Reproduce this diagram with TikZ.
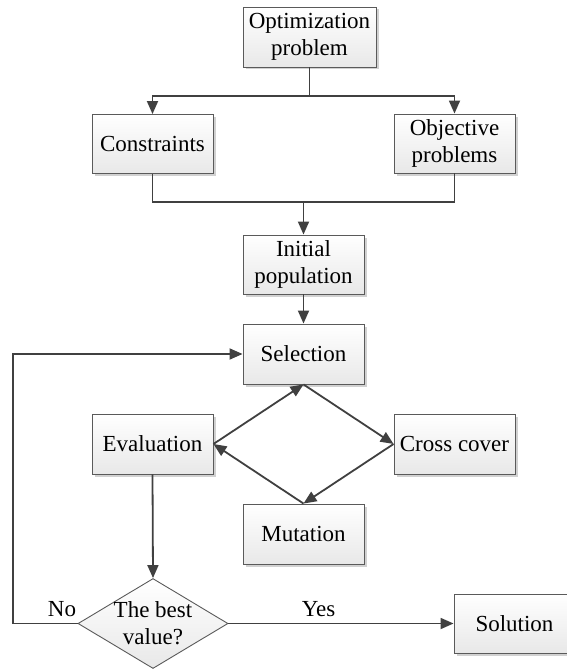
\documentclass[tikz,border=0pt]{standalone}
\usepackage{fontspec}
\setmainfont{Liberation Serif}
\usetikzlibrary{arrows.meta,shapes.geometric,shadows}
\definecolor{linec}{HTML}{404040}
\definecolor{boxline}{HTML}{5A5A5A}
\begin{document}
\begin{tikzpicture}[x=1pt,y=-1pt,
  every node/.style={font=\fontsize{23}{27.5}\selectfont},
  box/.style={rectangle,draw=boxline,line width=0.9pt,top color=white,bottom color=black!9,
    minimum width=121pt,minimum height=59pt,inner sep=0pt,align=center,
    drop shadow={shadow xshift=2.5pt,shadow yshift=-2.5pt,fill=black!30,opacity=0.6}},
  dia/.style={diamond,draw=boxline,line width=0.9pt,top color=white,bottom color=black!9,
    minimum width=150pt,minimum height=90pt,inner sep=0pt},
  conn/.style={draw=linec,line width=1.8pt},
  arr/.style={conn,-{Triangle[length=13pt,width=11pt]}},
  lbl/.style={inner sep=0pt}]
\useasboundingbox (0,0) rectangle (567,669);
\node[box,minimum width=133pt,minimum height=60pt] (opt) at (309.5,37) {Optimization\\problem};
\node[box] (cons) at (152.5,144) {Constraints};
\node[box] (obj) at (454.5,143.5) {Objective\\problems};
\node[box] (init) at (303.5,264.5) {Initial\\population};
\node[box,minimum height=60pt] (sel) at (303.5,354) {Selection};
\node[box,minimum height=60pt] (eval) at (152.5,444) {Evaluation};
\node[box,minimum height=60pt] (cross) at (454.5,444) {Cross cover};
\node[box,minimum height=60pt] (mut) at (303.5,534) {Mutation};
\node[dia] (best) at (153,623.5) {};
\node[lbl,align=center] (besttext) at (153,623) {The best\\value?};
\node[box] (sol) at (514.5,623.5) {Solution};
\coordinate (j1) at (309.5,96);
\coordinate (j2) at (303.5,202);
\coordinate (loop) at (13,623.5);
\draw[conn] (opt.south) -- (j1);
\draw[arr] (j1) -| (cons.north);
\draw[arr] (j1) -| (obj.north);
\draw[conn] (cons.south) |- (j2);
\draw[conn] (obj.south) |- (j2);
\draw[arr] (j2) -- (init.north);
\draw[arr] (init.south) -- (sel.north);
\draw[arr] (sel.south) -- (cross.west);
\draw[arr] (cross.west) -- (mut.north);
\draw[arr] (mut.north) -- (eval.east);
\draw[arr] (eval.east) -- (sel.south);
\draw[arr] (eval.south) -- (best.north);
\draw[arr] (best.east) -- node[lbl,above=6pt,pos=0.4] (yes) {Yes} (sol.west);
\draw[arr] (best.west) -- (loop) |- (sel.west);
\node[lbl] (no) at (62,609) {No};
\end{tikzpicture}
\end{document}
